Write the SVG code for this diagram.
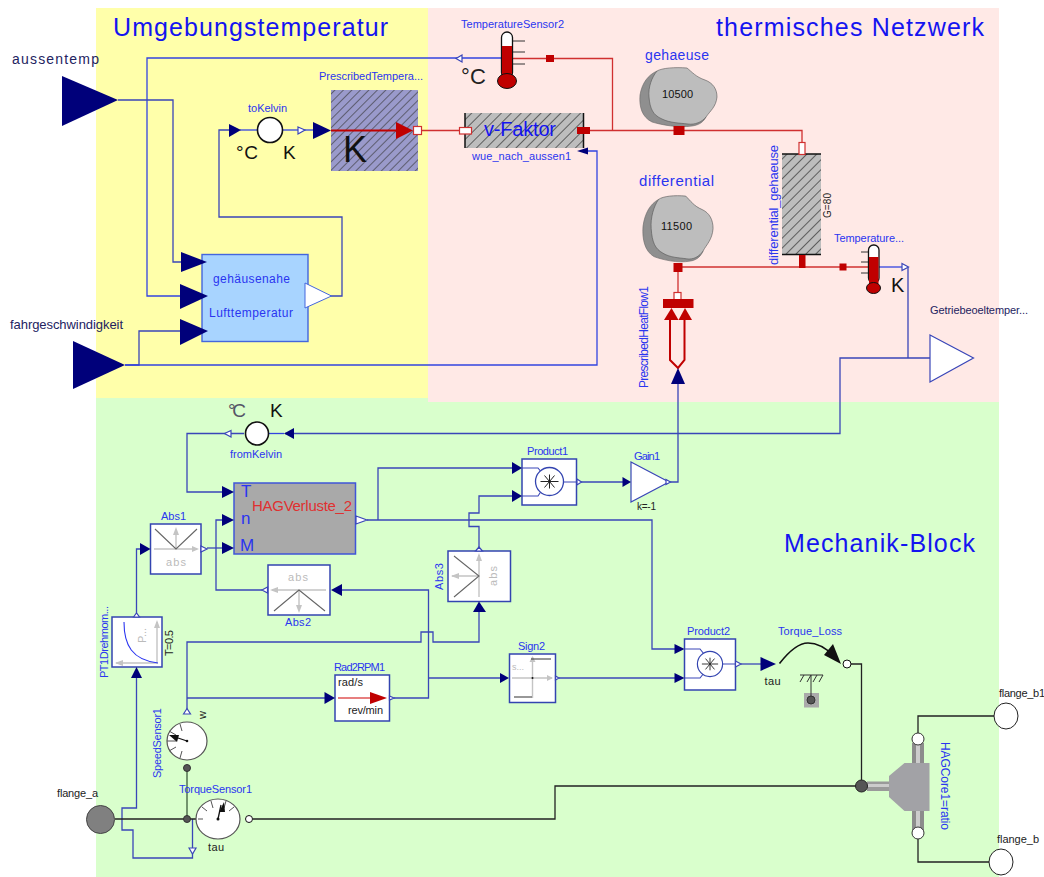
<svg xmlns="http://www.w3.org/2000/svg" width="1044" height="877" viewBox="0 0 1044 877">
<style>
text{font-family:"Liberation Sans",Arial,sans-serif;font-size:11px;fill:#2a35f0}
.t{font-size:25px;fill:#1414f0}
.d{fill:#222}
.dk{fill:#23235f;font-size:14px}
.k{fill:#111}
.g{fill:#bbb}
.c{fill:none;stroke:#3a46b8;stroke-width:1.3}
.cb{fill:none;stroke:#3344e0;stroke-width:1.3}
.r{fill:none;stroke:#d03030;stroke-width:1.3}
.m{fill:none;stroke:#222;stroke-width:1.3}
.in{fill:#00007a}
.out{fill:#fff;stroke:#3a46b8;stroke-width:1.2}
.box{fill:#fff;stroke:#3344b0;stroke-width:1.5}
.ax{fill:none;stroke:#c4c4c4;stroke-width:1.4}
.axh{fill:#c4c4c4}
.ln{fill:none;stroke:#666;stroke-width:1.1}
.rf{fill:#c00000}
.pw{fill:#fff;stroke:#d03030;stroke-width:1.2}
.tick{fill:none;stroke:#333;stroke-width:1}
.dial{fill:#fff;stroke:#555;stroke-width:1.2}
</style>
<defs>
<pattern id="hg" width="7" height="7" patternUnits="userSpaceOnUse" patternTransform="rotate(45)"><rect width="7" height="7" fill="#bdbdbd"/><line x1="0" y1="0" x2="0" y2="7" stroke="#333" stroke-width="1.4"/></pattern>
<pattern id="hb" width="6" height="6" patternUnits="userSpaceOnUse" patternTransform="rotate(45)"><rect width="6" height="6" fill="#9a9acb"/><line x1="0" y1="0" x2="0" y2="6" stroke="#333" stroke-width="1.2"/></pattern>
<g id="blob"><path d="M17 4C8 8 2 16 0 28C-1 40 2 50 12 55C22 58 38 61 52 59C60 58 64 54 66 50L30 30Z" fill="#8f8f8f" stroke="#666" stroke-width=".6"/><path d="M17 4C22 1 35 0 47 1C52 5 56 10 65 13C73 16 77 22 77 30C76 40 70 44 66 50C62 55 55 58 48 57C40 56 30 56 22 52C13 48 10 42 9 30C8 20 12 10 17 4Z" fill="#bdbdbd" stroke="#555" stroke-width=".6"/></g>
<g id="prod"><circle cx="0" cy="0" r="14" fill="#fff" stroke="#3344b0" stroke-width="1.3"/><path d="M-9 0H9M-5 -6L5 6M-5 6L5 -6M0 -7V7" stroke="#222" stroke-width="1" fill="none"/></g>
</defs>

<rect x="96" y="8" width="332" height="390" fill="#ffffaa"/>
<rect x="96" y="398" width="903" height="479" fill="#d9ffcc"/>
<rect x="428" y="8" width="571" height="394" fill="#ffe9e6"/>
<text class="t" x="113" y="36" textLength="275">Umgebungstemperatur</text>
<text class="t" x="716" y="36" textLength="268">thermisches Netzwerk</text>
<text class="t" x="784" y="552" textLength="191">Mechanik-Block</text>

<g id="connectors">
<polyline class="cb" points="501,58 147,58 147,296 182,296"/>
<polyline class="c" points="118,100 173,100 173,262 182,262"/>
<polyline class="c" points="125,365 139,365 139,331 182,331"/>
<polyline class="cb" points="125,365 597,365 597,151 586,151"/>
<polyline class="c" points="331,296 342,296 342,217 219,217 219,130 230,130"/>
<polyline class="cb" points="240,130 258,130"/>
<polyline class="cb" points="282,130 314,130"/>
<polyline class="r" points="421,130.500 460,130.500"/>
<polyline class="r" points="513,58.500 612.500,58.500 612.500,130.500"/>
<polyline class="r" points="588,130.500 802,130.500 802,143"/>
<polyline class="r" points="678,267 869,267"/>
<polyline class="r" points="678,272 678,293"/>
<polyline class="cb" points="879,267 908,267"/>
<polyline class="c" points="908,267 908,358"/>
<polyline class="c" points="930,358 840,358 840,433.500 285,433.500"/>
<polyline class="cb" points="284,433.500 269,433.500"/>
<polyline class="c" points="244,433.500 187,433.500 187,492 223,492"/>
<polyline class="c" points="678,384 678,482 668,482"/>
<polyline class="c" points="581,482 624,482"/>
<polyline class="c" points="367,520 652,520 652,649 676,649"/>
<polyline class="c" points="378,520 378,468 514,468"/>
<polyline class="c" points="479,549 479,526.500 469,526.500 469,513 479,513 479,496 514,496"/>
<polyline class="c" points="207,548 223,548"/>
<polyline class="c" points="223,520 216,520 216,590 262,590"/>
<polyline class="c" points="342,590 428.500,590 428.500,698 394,698"/>
<polyline class="c" points="428.500,678 500,678"/>
<polyline class="c" points="559,678 676,678"/>
<polyline class="c" points="741,664 762,664"/>
<polyline class="c" points="136.500,617 136.500,549 142,549"/>
<polyline class="c" points="187,709 187,642 421,642 421,632 433,632 433,642 479,642 479,611"/>
<polyline class="c" points="187,698 326,698"/>
<polyline class="c" points="136.500,678 136.500,808 122,808 122,830 133,830 133,858 192.500,858 192.500,853"/>
<polyline class="c" points="192.500,819 192.500,848"/>
<polyline class="m" points="115,819 196,819"/>
<polyline points="187,819 187,768" fill="none" stroke="#3c5c3c" stroke-width="1.3"/>
<polyline class="m" points="253,819 555,819 555,786 856,786"/>
<polyline class="m" points="851,664 861.500,664 861.500,786"/>
<polyline class="m" points="918,733 918,716 994,716"/>
<polyline class="m" points="918,839 918,862 989,862"/>
</g>

<g id="aussentemp"><polygon class="in" points="62,76 118,100 62,126"/><text class="dk" x="12" y="64" textLength="87">aussentemp</text></g>
<g id="fahrgeschwindigkeit"><polygon class="in" points="73,341 125,365 73,389"/><text class="dk" style="font-size:13px" x="10" y="329" textLength="113">fahrgeschwindigkeit</text></g>

<g id="gehaeusenahe_Lufttemperatur">
<rect x="202" y="254.500" width="106" height="87" fill="#a8d4ff" stroke="#4466dd" stroke-width="1.400"/>
<polygon class="in" points="181,252 207,262 181,272"/>
<polygon class="in" points="180,284 208,296 180,309"/>
<polygon class="in" points="180,319 208,331 180,345"/>
<polygon points="305,283 331.500,296 305,308" fill="#fff" stroke="#4466dd" stroke-width="1"/>
<text x="213" y="283" style="font-size:12px" textLength="77">gehäusenahe</text>
<text x="209" y="317" style="font-size:12px" textLength="84">Lufttemperatur</text>
</g>

<g id="toKelvin">
<circle cx="270" cy="130" r="12.500" fill="#fff" stroke="#111" stroke-width="1.600"/>
<polygon class="in" points="229,124 241,130 229,137"/>
<polygon class="out" points="298,127 305,130 298,134"/>
<text x="248" y="112" textLength="39">toKelvin</text>
<text class="k" x="236" y="159" style="font-size:19px" textLength="22">°C</text>
<text class="k" x="283" y="159" style="font-size:19px" textLength="12">K</text>
</g>

<g id="PrescribedTemperature">
<rect x="331" y="90" width="87" height="81" fill="url(#hb)"/>
<polygon class="in" points="313,122 331,130.500 313,139"/>
<line x1="331" y1="130.500" x2="400" y2="130.500" stroke="#c00000" stroke-width="1.800"/>
<polygon class="rf" points="396,122 413,130.500 396,139"/>
<rect class="pw" x="413.500" y="126.500" width="8" height="8"/>
<text class="k" x="343" y="162" style="font-size:36px">K</text>
<text x="319" y="80" textLength="104">PrescribedTempera...</text>
</g>

<g id="TemperatureSensor2">
<path d="M525 41H513M525 52H513M525 64H513" class="tick"/>
<rect x="501.500" y="32" width="11" height="46" rx="5.500" fill="#fff" stroke="#111" stroke-width="1.300"/>
<rect x="502" y="46" width="10" height="34" class="rf"/>
<ellipse cx="507" cy="81" rx="9.500" ry="7.500" class="rf" stroke="#111" stroke-width="1"/>
<polygon class="out" points="462,55 456,58.500 462,62"/>
<rect x="546" y="55" width="8" height="7" class="rf"/>
<text x="461" y="28" textLength="103">TemperatureSensor2</text>
<text class="d" x="461" y="84" style="font-size:22px" textLength="25">°C</text>
</g>

<g id="wue_nach_aussen1">
<rect x="465" y="113" width="119" height="35" fill="url(#hg)"/>
<path d="M465 113V148M583.500 113V148" stroke="#111" stroke-width="1.500"/>
<rect class="pw" x="459.500" y="127.500" width="12" height="6.500"/>
<rect x="577" y="127" width="13" height="7" class="rf"/>
<polygon class="in" points="577,151 588,147.500 588,154.500"/>
<text style="font-size:20px;fill:#1414f0" x="484" y="136" textLength="72">v-Faktor</text>
<text x="472" y="160" textLength="99">wue_nach_aussen1</text>
</g>

<g id="gehaeuse">
<use href="#blob" transform="translate(640,67)"/>
<rect x="673.500" y="126" width="11" height="9" class="rf"/>
<text style="font-size:14px" x="645" y="60" textLength="64">gehaeuse</text>
<text class="k" x="662" y="98" textLength="31">10500</text>
</g>

<g id="differential">
<use href="#blob" transform="translate(643,195) scale(.91,1.120)"/>
<rect x="673.500" y="263" width="9" height="9" class="rf"/>
<text style="font-size:15px" x="639" y="186" textLength="75">differential</text>
<text class="k" x="661" y="230" textLength="31">11500</text>
</g>

<g id="differential_gehaeuse">
<rect x="782" y="154" width="39" height="101" fill="url(#hg)"/>
<path d="M782 154H821M782 254.500H821" stroke="#111" stroke-width="1.500"/>
<rect class="pw" x="799" y="142.500" width="6" height="12"/>
<rect x="799" y="255" width="6.500" height="13" class="rf"/>
<text transform="translate(778,265) rotate(-90)" textLength="120" style="font-size:13px">differential_gehaeuse</text>
<text class="d" transform="translate(831,218) rotate(-90)" style="font-size:10px" textLength="25">G=80</text>
</g>

<g id="TemperatureSensor1">
<path d="M861 252H869M861 262H869M861 273H869" class="tick"/>
<rect x="868.500" y="245" width="10.500" height="38" rx="5" fill="#fff" stroke="#111" stroke-width="1.300"/>
<rect x="869" y="257" width="9.500" height="27" class="rf"/>
<ellipse cx="873.500" cy="288" rx="7" ry="5.500" class="rf" stroke="#111" stroke-width="1"/>
<rect x="839.500" y="263.500" width="7" height="7" class="rf"/>
<polygon class="out" points="902,263.500 908.500,267 902,270.500"/>
<text x="834" y="242" textLength="70">Temperature...</text>
<text class="k" x="891" y="292" style="font-size:20px" textLength="12">K</text>
</g>

<g id="Getriebeoeltemper">
<polygon class="out" points="930,335 973.500,358 930,382"/>
<text class="dk" style="font-size:11px" x="930" y="314" textLength="98">Getriebeoeltemper...</text>
</g>

<g id="PrescribedHeatFlow1">
<rect class="pw" x="674" y="292.500" width="7" height="8"/>
<rect x="663" y="299" width="30.500" height="9" class="rf"/>
<polygon class="rf" points="664,320 671.500,308 678.500,320"/>
<polygon class="rf" points="678.500,320 685,308 692,320"/>
<polyline points="670,320 670,360 678,368 684.500,360 684.500,320" fill="none" stroke="#c00000" stroke-width="2"/>
<polygon class="in" points="678,368 685,384 671,384"/>
<text transform="translate(648,388) rotate(-90)" textLength="102" style="font-size:12px">PrescribedHeatFlow1</text>
</g>

<g id="fromKelvin">
<circle cx="257" cy="433.500" r="11.500" fill="#fff" stroke="#111" stroke-width="1.600"/>
<polygon class="in" points="294,428 284,433.500 294,439"/>
<polygon class="out" points="231,430.500 224.500,433.500 231,437"/>
<text x="230" y="458" textLength="52">fromKelvin</text>
<text x="228" y="417" style="font-size:19px;fill:#556" textLength="18">°C</text>
<text class="k" x="270" y="417" style="font-size:19px" textLength="12">K</text>
</g>

<g id="HAGVerluste_2">
<rect x="234" y="483" width="121.500" height="71" fill="#a9a9a9" stroke="#3f55d8" stroke-width="1.500"/>
<polygon class="in" points="222,486 234,492 222,498"/>
<polygon class="in" points="222,514 234,520 222,526"/>
<polygon class="in" points="222,542 234,548 222,554"/>
<polygon class="out" points="356,516 367,520 356,524"/>
<text style="font-size:17px" x="241" y="497" textLength="10">T</text>
<text style="font-size:17px" x="241" y="524" textLength="10">n</text>
<text style="font-size:17px" x="240" y="551" textLength="13">M</text>
<text style="font-size:15px;fill:#e03030" x="252" y="511" textLength="100">HAGVerluste_2</text>
</g>

<g id="Abs1">
<rect class="box" x="150.500" y="524" width="50.500" height="50"/>
<path class="ax" d="M176 549V530M154 549H197"/><polygon class="axh" points="176,527 173,535 179,535"/><polygon class="axh" points="199,549 192,546 192,552"/>
<path class="ln" d="M155 529L176 549L197 529"/>
<text class="g" x="166" y="566" textLength="20">abs</text>
<polygon class="in" points="140,543 150.500,549 140,555"/>
<polygon class="out" points="201,546 207,549 201,552"/>
<text x="161" y="520" textLength="25">Abs1</text>
</g>

<g id="Abs2">
<rect class="box" x="268" y="565" width="62" height="50"/>
<path class="ax" d="M299 590V610M272 590H326"/><polygon class="axh" points="299,613 296,605 302,605"/><polygon class="axh" points="270,590 278,587 278,593"/>
<path class="ln" d="M274 611L299 590L325 611"/>
<text class="g" x="288" y="581" textLength="20">abs</text>
<polygon class="in" points="342,584 331,590 342,596"/>
<polygon class="out" points="267.500,587 262,590 267.500,593"/>
<text x="285" y="626" textLength="26">Abs2</text>
</g>

<g id="Abs3">
<rect class="box" x="448" y="551" width="62.500" height="50.500"/>
<path class="ax" d="M479 555V597M452 576H479"/><polygon class="axh" points="479,553 476,561 482,561"/><polygon class="axh" points="451,576 459,573 459,579"/>
<path class="ln" d="M454 556L479 576L454 597"/>
<text class="g" transform="translate(497,586) rotate(-90)" textLength="20">abs</text>
<polygon class="in" points="479,601.500 486,612 473,612"/>
<polygon class="out" points="475.500,551 479,547 482.500,551"/>
<text transform="translate(443,590) rotate(-90)" textLength="27">Abs3</text>
</g>

<g id="PT1Drehmoment">
<rect class="box" x="112" y="617" width="50" height="50"/>
<path class="ax" d="M157 622V663H116"/><polygon class="axh" points="157,620 154,628 160,628"/><polygon class="axh" points="115,663 123,660 123,666"/>
<path d="M124 622C124 645 132 660 158 663" fill="none" stroke="#2a35f0" stroke-width="1.100"/>
<text class="g" transform="translate(146,643) rotate(-90)">P...</text>
<polygon class="in" points="136.500,667 142,678 131,678"/>
<polygon class="out" points="133.500,617 136.500,613 139.500,617"/>
<text transform="translate(108,678) rotate(-90)" textLength="72">PT1Drehmom...</text>
<text class="d" transform="translate(173,656) rotate(-90)" textLength="26">T=0.5</text>
</g>

<g id="Product1">
<rect class="box" x="522" y="459" width="54.500" height="46"/>
<path class="ln" style="stroke:#3a46b8" d="M522 468H538L542 473M522 496H538L542 490M564 482H577"/>
<use href="#prod" transform="translate(549.500,481.500)"/>
<polygon class="in" points="512,462 522,468 512,474"/>
<polygon class="in" points="512,490 522,496 512,502"/>
<polygon class="out" points="577,479 581.500,482 577,485"/>
<text x="527" y="455" textLength="41">Product1</text>
</g>

<g id="Gain1">
<polygon class="out" points="631,462 669,482 631,502"/>
<polygon class="in" points="622.500,477 631,482 622.500,487"/>
<polygon class="out" points="666,479.500 670.500,482 666,484.500"/>
<text x="634" y="460" textLength="26">Gain1</text>
<text class="d" x="637" y="510" style="font-size:10px" textLength="19">k=-1</text>
</g>

<g id="Product2">
<rect class="box" x="684.500" y="639" width="51" height="51"/>
<path class="ln" style="stroke:#3a46b8" d="M684 649H700L704 654M684 678H700L704 673M722 664H736"/>
<use href="#prod" transform="translate(710,664) scale(.9)"/>
<polygon class="in" points="674.500,644 684.500,649 674.500,654"/>
<polygon class="in" points="674.500,673 684.500,678 674.500,683"/>
<polygon class="out" points="735.500,661 741,664 735.500,667"/>
<text x="687" y="635" textLength="43">Product2</text>
</g>

<g id="Sign2">
<rect class="box" x="509.500" y="654" width="46" height="48.500"/>
<path class="ax" d="M532.500 657V698M512 678H552"/><polygon class="axh" points="553,678 547,675 547,681"/><polygon class="axh" points="532.500,656 529.500,662 535.500,662"/>
<path d="M514 697H532M531 659H551" fill="none" stroke="#333" stroke-width="1.100"/>
<circle cx="532.500" cy="678" r="1" fill="#111"/>
<text class="g" style="font-size:9px" x="512" y="670">s...</text>
<polygon class="in" points="500,673 509,678 500,683"/>
<polygon class="out" points="555.500,676 559,678 555.500,680"/>
<text x="518" y="650" textLength="27">Sign2</text>
</g>

<g id="Rad2RPM1">
<rect class="box" x="335" y="675" width="54.500" height="46"/>
<line x1="338" y1="698" x2="372" y2="698" stroke="#d00000" stroke-width="1.200"/>
<polygon class="rf" points="370,692 387,698 370,704"/>
<polygon class="in" points="324.500,692 335,698 324.500,704"/>
<polygon class="out" points="389.500,696 394,698 389.500,700"/>
<text x="334" y="671" textLength="51">Rad2RPM1</text>
<text class="d" x="338" y="686" textLength="25">rad/s</text>
<text class="d" x="348" y="714" textLength="35">rev/min</text>
</g>

<g id="SpeedSensor1">
<ellipse class="dial" cx="187" cy="741" rx="20" ry="19"/>
<path class="tick" style="stroke:#555" d="M167 741H176M169 731L176 735M169 751L176 747M180 724L182 731M180 758L182 751"/>
<line x1="172" y1="736" x2="187" y2="741" stroke="#111" stroke-width="1.300"/>
<polygon points="169,735 179,735 177,742" fill="#111"/>
<circle cx="187" cy="741" r="1.300" fill="#111"/>
<polygon class="out" points="183.500,714 187,708.500 190.500,714"/>
<circle cx="187" cy="768" r="3.500" fill="#555" stroke="#333"/>
<text transform="translate(161,778) rotate(-90)" textLength="70">SpeedSensor1</text>
<text class="d" transform="translate(206,719) rotate(-90)">w</text>
</g>

<g id="TorqueSensor1">
<ellipse class="dial" cx="218" cy="819" rx="22" ry="20"/>
<path class="tick" style="stroke:#555" d="M202 807L207 811M211 801L213 808M226 801L224 808M234 807L229 811M198 819H203"/>
<line x1="218" y1="819" x2="221" y2="805" stroke="#111" stroke-width="1.300"/>
<polygon points="219,812 224,802 225,812" fill="#111"/>
<circle cx="218" cy="819" r="1.500" fill="#111"/>
<circle cx="249" cy="819" r="3.500" fill="#fff" stroke="#111"/>
<circle cx="187" cy="819" r="3.500" fill="#555" stroke="#333"/>
<polygon class="out" points="189,848 192.500,854 196,848"/>
<text x="179" y="793" textLength="73">TorqueSensor1</text>
<text class="d" x="208" y="851" textLength="16">tau</text>
</g>

<g id="flange_a">
<circle cx="100.500" cy="819.500" r="14" fill="#808080" stroke="#444"/>
<text class="d" x="57" y="797" textLength="41">flange_a</text>
</g>

<g id="Torque_Loss">
<polygon class="in" points="760.500,657 776,664 760.500,671"/>
<path d="M779.500 663.500C790 650 800 643 808 643C818 643 826 648 834 656" fill="none" stroke="#111" stroke-width="1.600"/>
<polygon points="841,664 824,655 833,644" fill="#111"/>
<circle cx="847" cy="664" r="4" fill="#fff" stroke="#111"/>
<text x="778" y="635" textLength="64">Torque_Loss</text>
<text class="d" x="764.500" y="685" textLength="16">tau</text>
<rect x="804" y="693" width="15" height="14.500" fill="#aaa"/>
<path d="M800 675H823M804 675L800 682M811 675L807 682M817 675L813 682M823 675L819 682M811 675V697" class="tick"/>
<circle cx="811" cy="700" r="4" fill="#555" stroke="#333"/>
</g>

<g id="HAGCore1">
<rect x="867" y="781.500" width="24" height="9.500" fill="#9a9a9a"/>
<rect x="867" y="784" width="24" height="3" fill="#ccc"/>
<rect x="912" y="743" width="12" height="88" fill="#8c8c8c"/>
<rect x="916" y="743" width="4" height="88" fill="#ccc"/>
<polygon points="889,776 904.500,763 929.500,763 929.500,811 904.500,811 889,797" fill="#a2a2a6"/>
<circle cx="861.500" cy="786" r="6" fill="#555" stroke="#222"/>
<circle cx="918" cy="739" r="6" fill="#fff" stroke="#333"/>
<circle cx="918" cy="833" r="6" fill="#fff" stroke="#333"/>
<text style="font-size:12px" transform="translate(941,742) rotate(90)" textLength="88">HAGCore1=ratio</text>
</g>

<g id="flange_b1">
<ellipse cx="1006" cy="716" rx="12" ry="13" fill="#fff" stroke="#222"/>
<text class="d" x="999" y="697" textLength="46">flange_b1</text>
</g>
<g id="flange_b">
<ellipse cx="1001" cy="862" rx="12" ry="13" fill="#fff" stroke="#222"/>
<text class="d" x="997" y="843" textLength="42">flange_b</text>
</g>
</svg>
